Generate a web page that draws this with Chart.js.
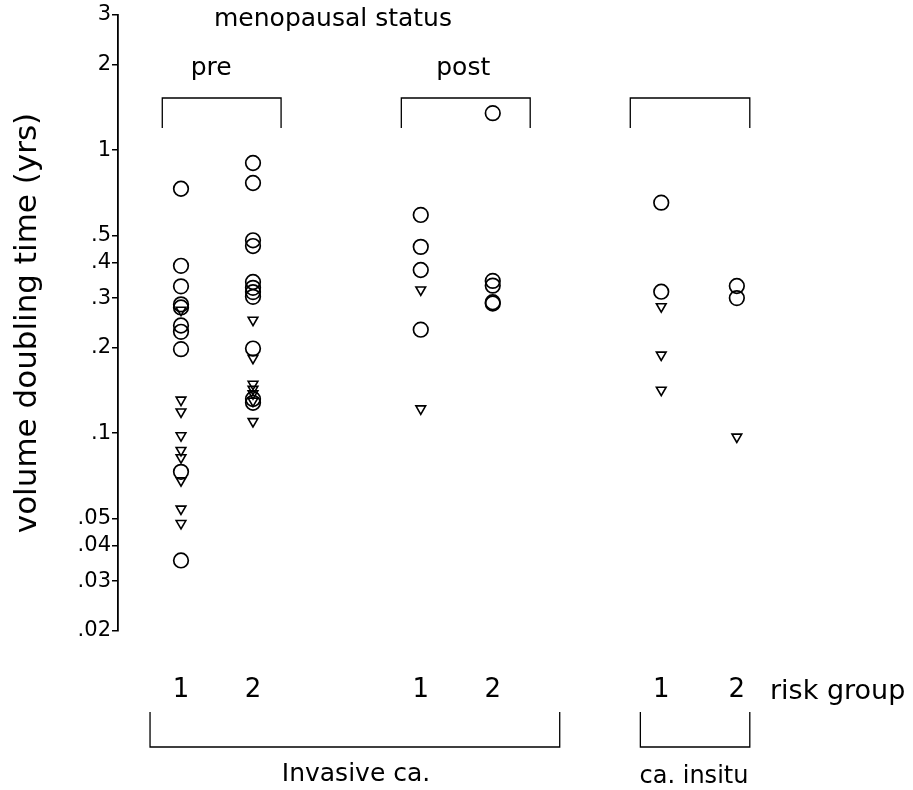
<!DOCTYPE html>
<html lang="en">
<head>
<meta charset="UTF-8">
<title>Volume doubling time</title>
<script src="https://cdn.jsdelivr.net/npm/chart.js"></script>
<style>
  html, body { margin: 0; padding: 0; background: #fff; }
</style>
</head>
<body>
<canvas id="chart" width="913" height="790"></canvas>
<script>
// risk group columns: pre 1, pre 2, post 1, post 2, insitu 1, insitu 2
const groupLabels = ['1', '2', '1', '2', '1', '2'];
const groupPos = [1, 2, 4.33, 5.33, 7.67, 8.72];

// circles
const pre1Circles = [0.73, 0.39, 0.33, 0.285, 0.278, 0.24, 0.228, 0.198, 0.073, 0.0355];
const pre2Circles = [0.90, 0.765, 0.48, 0.458, 0.342, 0.326, 0.315, 0.303, 0.199, 0.132, 0.128];
const post1Circles = [0.59, 0.455, 0.377, 0.232];
const post2Circles = [1.35, 0.345, 0.332, 0.29, 0.287];
const insitu1Circles = [0.652, 0.316];
const insitu2Circles = [0.331, 0.300];

// triangles
const pre1Triangles = [0.272, 0.131, 0.119, 0.098, 0.087, 0.082, 0.068, 0.054, 0.048];
const pre2Triangles = [0.251, 0.184, 0.149, 0.143, 0.138, 0.130, 0.110];
const post1Triangles = [0.321, 0.122];
const post2Triangles = [];
const insitu1Triangles = [0.28, 0.189, 0.142];
const insitu2Triangles = [0.097];

const yTicks = [0.02, 0.03, 0.04, 0.05, 0.1, 0.2, 0.3, 0.4, 0.5, 1, 2, 3];
const yTickLabels = ['.02', '.03', '.04', '.05', '.1', '.2', '.3', '.4', '.5', '1', '2', '3'];

const FONT = 'DejaVu Sans';

function toPoints(groups) {
  const pts = [];
  groups.forEach((vals, i) => vals.forEach(v => pts.push({ x: groupPos[i], y: v })));
  return pts;
}

const circlePts = toPoints([pre1Circles, pre2Circles, post1Circles, post2Circles, insitu1Circles, insitu2Circles]);
const trianglePts = toPoints([pre1Triangles, pre2Triangles, post1Triangles, post2Triangles, insitu1Triangles, insitu2Triangles]);

// brackets and the group texts around the plot
const annotations = {
  id: 'annotations',
  afterDraw(chart) {
    const ctx = chart.ctx;
    const xs = chart.scales.x;
    const px = v => xs.getPixelForValue(v);
    ctx.save();
    ctx.strokeStyle = '#000';
    ctx.fillStyle = '#000';
    ctx.lineWidth = 1.3;

    function bracketDown(x1, x2, yTop, yBot) {
      ctx.beginPath();
      ctx.moveTo(x1, yBot); ctx.lineTo(x1, yTop); ctx.lineTo(x2, yTop); ctx.lineTo(x2, yBot);
      ctx.stroke();
    }
    function bracketUp(x1, x2, yTop, yBot) {
      ctx.beginPath();
      ctx.moveTo(x1, yTop); ctx.lineTo(x1, yBot); ctx.lineTo(x2, yBot); ctx.lineTo(x2, yTop);
      ctx.stroke();
    }
    bracketDown(px(0.74), px(2.39), 98, 128);
    bracketDown(px(4.06), px(5.85), 98, 128);
    bracketDown(px(7.24), px(8.9), 98, 128);
    bracketUp(px(0.57), px(6.26), 712, 747);
    bracketUp(px(7.38), px(8.9), 712, 747);

    ctx.textBaseline = 'middle';
    ctx.textAlign = 'center';
    ctx.font = '25px "' + FONT + '"';
    ctx.fillText('menopausal status', 333, 19);
    ctx.fillText('pre', px(1.42), 68);
    ctx.fillText('post', px(4.92), 68);
    ctx.fillText('Invasive ca.', 356, 774);
    ctx.font = '24px "' + FONT + '"';
    ctx.fillText('ca. insitu', 694, 777);
    ctx.textAlign = 'left';
    ctx.font = '27px "' + FONT + '"';
    ctx.fillText('risk group', 770, 692);
    ctx.restore();
  }
};

new Chart(document.getElementById('chart'), {
  type: 'scatter',
  data: {
    datasets: [{
      label: 'circles',
      data: circlePts,
      pointStyle: 'circle',
      pointRadius: 7.3,
      pointBorderWidth: 1.7,
      pointBorderColor: '#000',
      pointBackgroundColor: 'transparent'
    }, {
      label: 'triangles',
      data: trianglePts,
      pointStyle: 'triangle',
      pointRotation: 180,
      pointRadius: 5.6,
      pointBorderWidth: 1.6,
      pointBorderColor: '#000',
      pointBackgroundColor: 'transparent'
    }]
  },
  options: {
    responsive: false,
    animation: false,
    layout: { padding: { top: 15, right: 75, bottom: 0, left: 0 } },
    plugins: {
      legend: { display: false },
      tooltip: { enabled: false }
    },
    scales: {
      x: {
        type: 'linear',
        min: 0.125,
        max: 10.125,
        border: { display: false },
        grid: { display: false, drawTicks: false },
        afterBuildTicks: s => { s.ticks = groupPos.map(v => ({ value: v })); },
        afterFit: s => { s.height = 159; },
        ticks: {
          padding: 44,
          color: '#000',
          maxRotation: 0,
          font: { family: FONT, size: 26 },
          callback: (v, i) => groupLabels[i]
        }
      },
      y: {
        type: 'logarithmic',
        min: 0.02,
        max: 3,
        border: { display: true, color: '#000', width: 1.8 },
        grid: { drawOnChartArea: false, color: '#000', lineWidth: 1.5, tickLength: 6 },
        afterBuildTicks: s => { s.ticks = yTicks.map(v => ({ value: v })); },
        afterFit: s => { s.width = 118; },
        ticks: {
          padding: 1,
          color: '#000',
          font: { family: FONT, size: 21 },
          callback: v => yTickLabels[yTicks.indexOf(v)]
        },
        title: {
          display: true,
          text: 'volume doubling time (yrs)',
          color: '#000',
          font: { family: FONT, size: 31 },
          padding: { top: 9, bottom: 0 }
        }
      }
    }
  },
  plugins: [annotations]
});
</script>
</body>
</html>
